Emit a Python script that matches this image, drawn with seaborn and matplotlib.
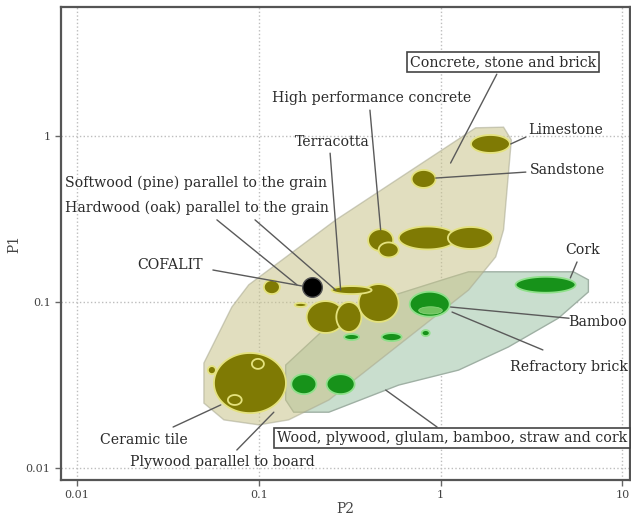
import numpy as np
import matplotlib
matplotlib.use("Agg")
import matplotlib.pyplot as plt
import seaborn as sns

# ---- envelopes (P2, P1 outline points) ----
concrete_p2 = [0.0499, 0.0499, 0.0643, 0.100, 0.146, 0.243, 1.425, 2.01, 2.22, 2.45, 2.22, 1.56, 0.265, 0.0881, 0.0711]
concrete_p1 = [0.0429, 0.0246, 0.0195, 0.0182, 0.0195, 0.0257, 0.118, 0.187, 0.272, 0.946, 1.13, 1.12, 0.312, 0.127, 0.0933]

wood_p2 = [0.1406, 0.1406, 0.243, 0.456, 1.107, 1.425, 5.38, 6.5, 6.5, 4.45, 2.36, 1.256, 0.588, 0.243, 0.1556]
wood_p1 = [0.0257, 0.0417, 0.0727, 0.1028, 0.1396, 0.152, 0.152, 0.136, 0.115, 0.080, 0.0536, 0.0389, 0.0316, 0.0217, 0.0217]

# ---- mineral materials: centre (P2, P1) and half-spans in decades ----
mineral_p2 = [0.0894, 0.0989, 0.0738, 0.0552, 1.88, 0.807, 0.849, 1.46, 0.468, 0.518, 0.233, 0.313, 0.456, 0.324, 0.118, 0.170]
mineral_p1 = [0.0325, 0.0424, 0.0257, 0.0389, 0.895, 0.551, 0.243, 0.243, 0.236, 0.206, 0.0812, 0.0812, 0.0986, 0.118, 0.123, 0.096]
mineral_dx = [0.198, 0.033, 0.038, 0.022, 0.107, 0.066, 0.159, 0.124, 0.069, 0.055, 0.104, 0.069, 0.110, 0.110, 0.044, 0.033]
mineral_dy = [0.181, 0.030, 0.030, 0.024, 0.054, 0.054, 0.069, 0.066, 0.066, 0.045, 0.096, 0.090, 0.114, 0.024, 0.042, 0.012]

# ---- bio-based materials ----
bio_p2 = [3.78, 0.871, 0.324, 0.538, 0.828, 0.177, 0.282]
bio_p1 = [0.127, 0.097, 0.0615, 0.0615, 0.065, 0.032, 0.032]
bio_dx = [0.165, 0.110, 0.041, 0.055, 0.022, 0.069, 0.077]
bio_dy = [0.048, 0.075, 0.018, 0.024, 0.018, 0.060, 0.060]

# refractory brick sits inside the bamboo bubble
brick_p2, brick_p1, brick_dx, brick_dy = [0.88], [0.089], [0.065], [0.022]

# reference material
cofalit_p2 = [0.195]
cofalit_p1 = [0.123]

x_ticks = [0.01, 0.1, 1, 10]
x_tick_labels = ["0.01", "0.1", "1", "10"]
y_ticks = [0.01, 0.1, 1]
y_tick_labels = ["0.01", "0.1", "1"]

sns.set_style("white")
plt.rcParams["font.family"] = ["DejaVu Serif"]

fig = plt.figure(figsize=(6.31, 5.20), dpi=100)
ax = fig.add_axes([0.0967, 0.0769, 0.9016, 0.9096])
ax.set_xscale("log")
ax.set_yscale("log")
ax.set_xlim(0.00817, 11.0)
ax.set_ylim(0.00847, 5.98)

OLIVE = "#7f7a04"
OLIVE_EDGE = "#e4e27e"
GREEN = "#17921a"
GREEN_EDGE = "#8fe08a"


def bubble(x, y, dx, dy, face, edge, z, lw=1.3):
    t = np.linspace(0, 2 * np.pi, 120)
    lx = np.log10(x) + dx * np.cos(t)
    ly = np.log10(y) + dy * np.sin(t)
    ax.fill(10 ** lx, 10 ** ly, fc=face, ec=edge, lw=lw, zorder=z)


# envelopes
ax.fill(wood_p2, wood_p1, fc="#c9dece", ec="#9fb0a4", lw=1.0, zorder=1)
ax.fill(concrete_p2, concrete_p1, fc="#c9c48c", ec="#a8a890", lw=1.0, alpha=0.55, zorder=2)

# bubbles
for i, (x, y, dx, dy) in enumerate(zip(mineral_p2, mineral_p1, mineral_dx, mineral_dy)):
    bubble(x, y, dx, dy, OLIVE, OLIVE_EDGE, 3 + i * 0.01)
for i, (x, y, dx, dy) in enumerate(zip(bio_p2, bio_p1, bio_dx, bio_dy)):
    bubble(x, y, dx, dy, GREEN, GREEN_EDGE, 3.5 + i * 0.01)
bubble(brick_p2[0], brick_p1[0], brick_dx[0], brick_dy[0], "#6fc45e", "#8fd880", 3.9, lw=0.5)

sns.scatterplot(x=cofalit_p2, y=cofalit_p1, color="black", s=200, edgecolor="#555555",
                linewidth=1.0, ax=ax, zorder=6, legend=False)

# axes styling
ax.set_xticks(x_ticks)
ax.set_xticklabels(x_tick_labels)
ax.set_yticks(y_ticks)
ax.set_yticklabels(y_tick_labels)
ax.minorticks_off()
ax.tick_params(axis="both", which="major", length=4, width=1, color="#666666",
               labelsize=8, labelcolor="#444444", direction="out", bottom=True, left=True)
ax.grid(True, which="major", color="#bdbdbd", linestyle=":", linewidth=1.0, zorder=0)
ax.set_axisbelow(True)
for sp in ax.spines.values():
    sp.set_color("#555555")
    sp.set_linewidth(1.6)
ax.set_xlabel("P2", fontsize=10, color="#444444", labelpad=1)
ax.set_ylabel("P1", fontsize=10, color="#444444", labelpad=3)

LINE = dict(arrowstyle="-", color="#5a5a5a", lw=1.0, shrinkA=0, shrinkB=0)
TXT = dict(fontsize=10.2, color="#2a2a2a", va="center", transform=ax.transAxes, zorder=8)
BOX = dict(boxstyle="square,pad=0.2", fc="white", ec="#444444", lw=1.2)

# (label, text x, text y, ha, boxed, line start x, line start y, target P2, target P1)
notes = [
    ("Concrete, stone and brick", 0.777, 0.884, "center", True, 0.766, 0.858, 1.135, 0.687),
    ("High performance concrete", 0.371, 0.808, "left", False, 0.543, 0.782, 0.468, 0.272),
    ("Terracotta", 0.411, 0.715, "left", False, 0.473, 0.691, 0.282, 0.118),
    ("Limestone", 0.821, 0.740, "left", False, 0.817, 0.725, 2.43, 0.895),
    ("Sandstone", 0.824, 0.655, "left", False, 0.817, 0.651, 0.94, 0.558),
    ("Softwood (pine) parallel to the grain", 0.007, 0.628, "left", False, 0.341, 0.550, 0.265, 0.118),
    ("Hardwood (oak) parallel to the grain", 0.007, 0.575, "left", False, 0.274, 0.550, 0.162, 0.127),
    ("COFALIT", 0.134, 0.455, "left", False, 0.267, 0.444, 0.172, 0.125),
    ("Cork", 0.886, 0.486, "left", False, 0.907, 0.461, 5.17, 0.1396),
    ("Bamboo", 0.892, 0.334, "left", False, 0.893, 0.342, 1.135, 0.0933),
    ("Refractory brick", 0.789, 0.239, "left", False, 0.847, 0.275, 1.156, 0.0870),
    ("Ceramic tile", 0.0685, 0.0846, "left", False, 0.197, 0.112, 0.0618, 0.024),
    ("Plywood parallel to board", 0.121, 0.038, "left", False, 0.309, 0.0634, 0.121, 0.0217),
    ("Wood, plywood, glulam, bamboo, straw and cork", 0.380, 0.0888, "left", True, 0.661, 0.112, 0.499, 0.0295),
]

for label, tx, ty, ha, boxed, sx, sy, px, py in notes:
    ax.annotate("", xy=(px, py), xycoords="data", xytext=(sx, sy), textcoords="axes fraction",
                arrowprops=LINE, zorder=7, annotation_clip=False)
    ax.text(tx, ty, label, ha=ha, bbox=BOX if boxed else None, clip_on=False, **TXT)

fig.savefig("out.png", dpi=100)
